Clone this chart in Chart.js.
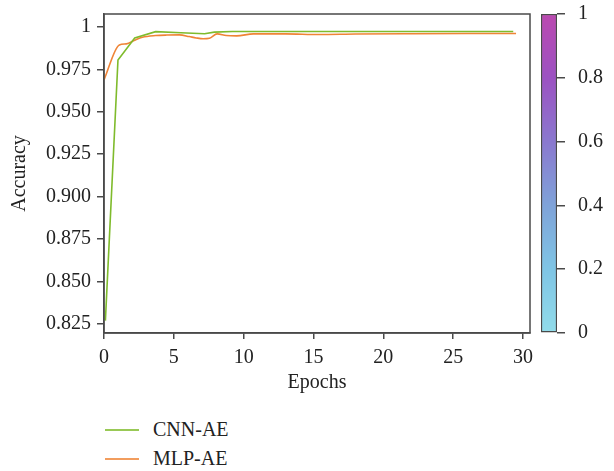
<!DOCTYPE html>
<html lang="en">

<head>
  <meta charset="UTF-8">
  <title>Accuracy vs Epochs</title>
  <script src="https://cdn.jsdelivr.net/npm/chart.js"></script>
  <style>
    * {
      margin: 0;
      padding: 0;
      box-sizing: border-box;
    }

    body {
      background: #fff;
      width: 614px;
      height: 471px;
      position: relative;
      font-family: 'Liberation Serif', 'DejaVu Serif', serif;
      color: #222;
    }

    #mainChart {
      position: absolute;
      left: 0;
      top: 0;
    }

    #barChart {
      position: absolute;
      left: 535px;
      top: 0;
    }

    .legend {
      position: absolute;
      left: 105px;
      top: 415px;
    }

    .legend-item {
      display: flex;
      align-items: center;
      height: 29px;
      font-size: 20px;
    }

    .legend-item span.swatch {
      display: inline-block;
      width: 34px;
      height: 2px;
      margin-right: 14px;
      opacity: 0.8;
    }
  </style>
</head>

<body>
  <canvas id="mainChart" width="535" height="400"></canvas>
  <canvas id="barChart" width="79" height="400"></canvas>
  <div class="legend" id="legend"></div>

  <script>
    // values
    const cnnEpochs = [0.1, 1, 2.2, 3.7, 5.5, 7.2, 7.9, 9.2, 12, 15, 20, 25, 29.3];
    const cnnAcc = [0.827, 0.9805, 0.9935, 0.9972, 0.9966, 0.9960, 0.9969, 0.9973, 0.9973, 0.9973, 0.9973, 0.9973, 0.9973];

    const mlpEpochs = [0, 1.1, 1.6, 2.2, 2.75, 3.7, 4.5, 5.4, 6.1, 6.6, 7.1, 7.55, 8.1, 8.75, 9.5, 10.7, 13, 15.4, 18, 22, 26, 29.5];
    const mlpAcc = [0.9688, 0.9894, 0.990, 0.9922, 0.9939, 0.9949, 0.9952, 0.9953, 0.9943, 0.9935, 0.993, 0.9933, 0.9959, 0.9949, 0.9947, 0.9959, 0.9959, 0.9955, 0.9958, 0.996, 0.9961, 0.9961];

    const xTicks = [0, 5, 10, 15, 20, 25, 30];
    const yTicks = [0.825, 0.850, 0.875, 0.900, 0.925, 0.950, 0.975, 1];
    const barTicks = [0, 0.2, 0.4, 0.6, 0.8, 1];
    const barStops = ['#91dcea', '#7fc5e5', '#7fa3d9', '#8a78cf', '#9c52c2', '#bb49b0'];

    const font = { family: "'Liberation Serif', 'DejaVu Serif', serif", size: 20 };
    const ink = '#222';
    const axisColor = '#4a4a4a';

    const toPoints = (xs, ys) => xs.map((x, i) => ({ x: x, y: ys[i] }));

    // stop chart.js from shrinking the plot for edge labels
    const noEdgePadding = s => {
      s.paddingLeft = 0;
      s.paddingRight = 0;
      s.paddingTop = 0;
      s.paddingBottom = 0;
    };

    const datasets = [{
        label: 'CNN-AE',
        data: toPoints(cnnEpochs, cnnAcc),
        borderColor: '#7fbb2c',
        borderWidth: 1.6,
        pointRadius: 0,
        tension: 0,
      },
      {
        label: 'MLP-AE',
        data: toPoints(mlpEpochs, mlpAcc),
        borderColor: '#ef8436',
        borderWidth: 1.6,
        pointRadius: 0,
        cubicInterpolationMode: 'monotone',
      },
    ];

    // box around the plot area
    const frame = {
      id: 'frame',
      afterDraw(chart) {
        const { ctx, chartArea: a } = chart;
        ctx.save();
        ctx.strokeStyle = axisColor;
        ctx.lineWidth = 1.5;
        ctx.strokeRect(a.left, a.top, a.right - a.left, a.bottom - a.top);
        ctx.restore();
      }
    };

    new Chart(document.getElementById('mainChart'), {
      type: 'line',
      data: { datasets: datasets },
      options: {
        responsive: false,
        animation: false,
        layout: { padding: { top: 14, right: 5, left: 8, bottom: 5 } },
        plugins: { legend: { display: false }, tooltip: { enabled: false } },
        scales: {
          x: {
            type: 'linear',
            min: 0,
            max: 30.5,
            afterBuildTicks: s => { s.ticks = xTicks.map(v => ({ value: v })); },
            afterFit: s => { s.height = 62; noEdgePadding(s); },
            grid: { drawOnChartArea: false, color: axisColor, tickLength: 6, lineWidth: 1.5 },
            border: { color: axisColor, width: 1.5 },
            ticks: { color: ink, font: font, padding: 7, maxRotation: 0, callback: v => String(v) },
            title: { display: true, text: 'Epochs', color: ink, font: font, padding: { top: 0, bottom: 0 } },
          },
          y: {
            min: 0.8197,
            max: 1.0076,
            afterBuildTicks: s => { s.ticks = yTicks.map(v => ({ value: v })); },
            afterFit: s => { s.width = 96; noEdgePadding(s); },
            grid: { drawOnChartArea: false, color: axisColor, tickLength: 7, lineWidth: 1.5 },
            border: { color: axisColor, width: 1.5 },
            ticks: { color: ink, font: font, padding: 6, callback: v => (v === 1 ? '1' : v.toFixed(3)) },
            title: { display: true, text: 'Accuracy', color: ink, font: font, padding: { top: 0, bottom: 0 } },
          },
        },
      },
      plugins: [frame],
    });

    // colour bar on the right
    function barGradient(context) {
      const area = context.chart.chartArea;
      if (!area) return barStops[0];
      const g = context.chart.ctx.createLinearGradient(0, area.bottom, 0, area.top);
      barStops.forEach((c, i) => g.addColorStop(i / (barStops.length - 1), c));
      return g;
    }

    new Chart(document.getElementById('barChart'), {
      type: 'bar',
      data: {
        labels: [''],
        datasets: [{
          data: [1],
          backgroundColor: barGradient,
          borderColor: axisColor,
          borderWidth: 1.5,
          borderSkipped: false,
          categoryPercentage: 1,
          barPercentage: 1,
        }],
      },
      options: {
        responsive: false,
        animation: false,
        layout: { padding: { top: 14, left: 6, right: 0, bottom: 67 } },
        plugins: { legend: { display: false }, tooltip: { enabled: false } },
        scales: {
          x: { display: false },
          y: {
            position: 'right',
            min: 0,
            max: 1,
            afterBuildTicks: s => { s.ticks = barTicks.map(v => ({ value: v })); },
            afterFit: s => { s.width = 57; noEdgePadding(s); },
            grid: { drawOnChartArea: false, color: axisColor, tickLength: 8, lineWidth: 1.5 },
            border: { display: false },
            ticks: { color: ink, font: font, padding: 13, callback: v => String(v) },
          },
        },
      },
    });

    // legend stacked below the chart
    const legend = document.getElementById('legend');
    datasets.forEach(d => {
      const row = document.createElement('div');
      row.className = 'legend-item';
      row.innerHTML = `<span class="swatch" style="background:${d.borderColor}"></span>${d.label}`;
      legend.appendChild(row);
    });
  </script>
</body>

</html>
